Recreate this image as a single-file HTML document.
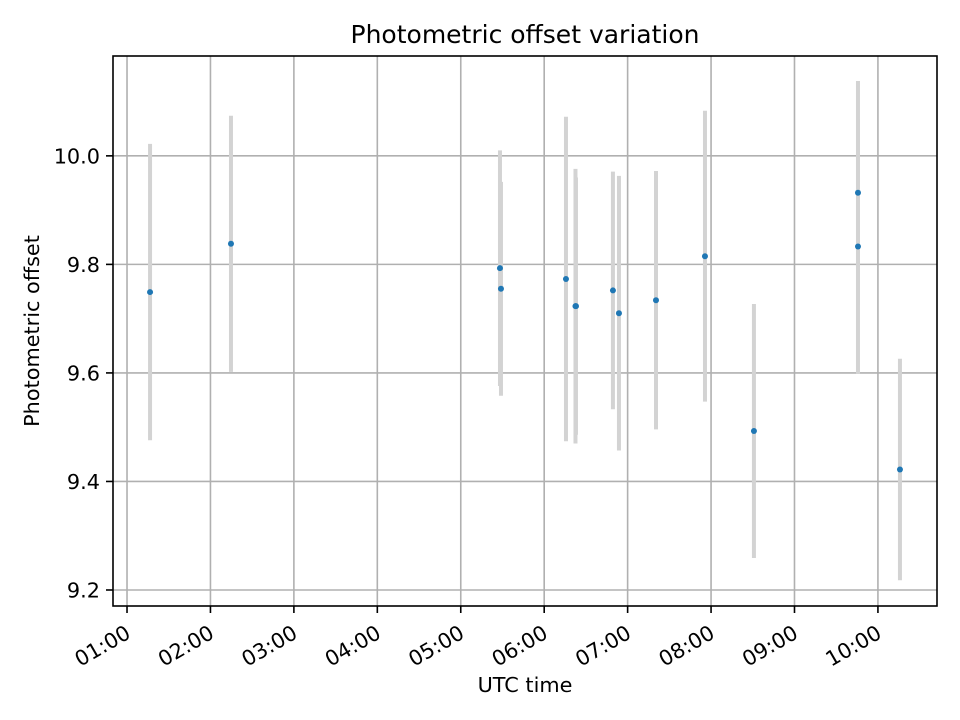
<!DOCTYPE html>
<html><head><meta charset="utf-8"><style>
body{margin:0;background:#fff;}
svg{display:block;font-family:"DejaVu Sans","Liberation Sans",sans-serif;}
</style></head><body>
<svg id="chart" width="960" height="720"></svg>
<script>
const timesHours=[1.276,2.246,5.470,5.482,6.261,6.375,6.381,6.824,6.896,7.340,7.927,8.514,9.761,9.761,10.264];
const offsets=[9.749,9.838,9.793,9.755,9.773,9.723,9.723,9.752,9.710,9.734,9.815,9.493,9.932,9.833,9.422];
const errors=[0.273,0.236,0.217,0.197,0.299,0.253,0.237,0.219,0.253,0.238,0.268,0.234,0.206,0.235,0.204];
const yTicks=[9.2,9.4,9.6,9.8,10.0];
const xTickHours=[1,2,3,4,5,6,7,8,9,10];
const xTickLabels=["01:00","02:00","03:00","04:00","05:00","06:00","07:00","08:00","09:00","10:00"];

const L=113,R=937,T=56,B=606;
const xMin=0.832,xMax=10.708,yMin=9.1705,yMax=10.184;
const sx=h=>L+(h-xMin)/(xMax-xMin)*(R-L);
const sy=v=>B-(v-yMin)/(yMax-yMin)*(B-T);
const svg=document.getElementById('chart');
const NS='http://www.w3.org/2000/svg';
function mk(tag,attrs,parent){const e=document.createElementNS(NS,tag);for(const k in attrs)e.setAttribute(k,attrs[k]);(parent||svg).appendChild(e);return e;}

xTickHours.forEach((h,i)=>{
  const g=mk('line',{x1:sx(h),x2:sx(h),y1:T,y2:B,stroke:'#b0b0b0','stroke-width':1.6});
  
  
});
yTicks.forEach(v=>{
  const g=mk('line',{x1:L,x2:R,y1:sy(v),y2:sy(v),stroke:'#b0b0b0','stroke-width':1.6});
  
  
});
timesHours.forEach((h,i)=>{
  const e=mk('line',{x1:sx(h),x2:sx(h),y1:sy(offsets[i]+errors[i]),y2:sy(offsets[i]-errors[i]),stroke:'#d3d3d3','stroke-width':4});
  
  
});
timesHours.forEach((h,i)=>{
  const c=mk('circle',{cx:sx(h),cy:sy(offsets[i]),r:3,fill:'#1f77b4'});
  
  
});
const fr=mk('rect',{x:L,y:T,width:R-L,height:B-T,fill:'none',stroke:'#000','stroke-width':1.6});


yTicks.forEach(v=>{
  const y=sy(v);
  mk('line',{x1:L-7,x2:L,y1:y,y2:y,stroke:'#000','stroke-width':1.6});
  const t=mk('text',{x:L-13,y:y+7.5,'text-anchor':'end','font-size':20.8,fill:'#000'});
  t.textContent=v.toFixed(1);
  
  
});
xTickHours.forEach((h,i)=>{
  const x=sx(h);
  mk('line',{x1:x,x2:x,y1:B,y2:B+7,stroke:'#000','stroke-width':1.6});
  const t=mk('text',{x:x+5,y:B+31,'text-anchor':'end','font-size':20.8,fill:'#000',transform:`rotate(-30 ${x+5} ${B+31})`});
  t.textContent=xTickLabels[i];
  
  
});
const ti=mk('text',{x:(L+R)/2,y:43,'text-anchor':'middle','font-size':25});
ti.textContent='Photometric offset variation';


const xl=mk('text',{x:(L+R)/2,y:692,'text-anchor':'middle','font-size':20.8});
xl.textContent='UTC time';


const yl=mk('text',{x:39,y:331,'text-anchor':'middle','font-size':20.8,transform:'rotate(-90 39 331)'});
yl.textContent='Photometric offset';


</script>
</body></html>
